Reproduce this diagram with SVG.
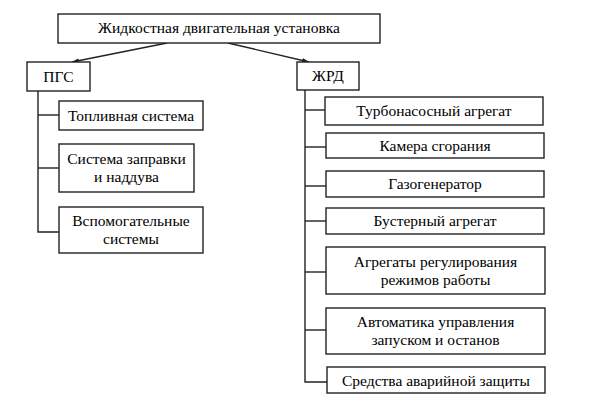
<svg xmlns="http://www.w3.org/2000/svg" width="597" height="403" viewBox="0 0 597 403">
<style>
rect{fill:#fff;stroke:#222;stroke-width:1.4}
text{font-family:'Liberation Serif','DejaVu Serif',serif;font-size:15.5px;fill:#000;text-anchor:middle}
.c line,.c polyline{stroke:#222;stroke-width:1.4;fill:none}
</style>
<defs>
<marker id="ah" markerWidth="8" markerHeight="6" refX="7" refY="3" orient="auto" markerUnits="userSpaceOnUse">
<path d="M0,0.5 L7,3 L0,5.5 Z" fill="#222"/>
</marker>
</defs>
<rect x="0" y="0" width="597" height="403" style="fill:#fff;stroke:none"/>
<g class="c" id="connectors">
<line x1="167" y1="43" x2="72" y2="62" marker-end="url(#ah)"/>
<line x1="228" y1="43" x2="309" y2="62" marker-end="url(#ah)"/>
<polyline points="38,91 38,232 59,232"/>
<line x1="38" y1="115" x2="59" y2="115"/>
<line x1="38" y1="168" x2="59" y2="168"/>
<polyline points="305,90 305,382 327,382"/>
<line x1="305" y1="110" x2="325" y2="110"/>
<line x1="305" y1="147" x2="326" y2="147"/>
<line x1="305" y1="186" x2="326" y2="186"/>
<line x1="305" y1="221" x2="326" y2="221"/>
<line x1="305" y1="272" x2="326" y2="272"/>
<line x1="305" y1="330" x2="326" y2="330"/>
</g>
<g id="root"><rect x="58" y="14" width="322" height="29"/><text x="219" y="33">Жидкостная двигательная установка</text></g>
<g id="pgs"><rect x="27" y="62" width="63" height="29"/><text x="58.5" y="81.5">ПГС</text></g>
<g id="zhrd"><rect x="297" y="62" width="62" height="28"/><text x="328" y="81">ЖРД</text></g>
<g id="fuel"><rect x="59" y="101" width="144" height="29"/><text x="131" y="120.5">Топливная система</text></g>
<g id="fill"><rect x="59" y="144" width="135" height="48"/><text x="126.5" y="164">Система заправки</text><text x="126.5" y="182">и наддува</text></g>
<g id="aux"><rect x="59" y="207" width="144" height="46"/><text x="131" y="226">Вспомогательные</text><text x="131" y="244">системы</text></g>
<g id="tna"><rect x="325" y="97" width="218" height="28"/><text x="434" y="116">Турбонасосный агрегат</text></g>
<g id="ks"><rect x="326" y="133" width="218" height="25"/><text x="435" y="151">Камера сгорания</text></g>
<g id="gg"><rect x="326" y="171" width="218" height="26"/><text x="435" y="189">Газогенератор</text></g>
<g id="ba"><rect x="326" y="208" width="218" height="26"/><text x="435" y="226">Бустерный агрегат</text></g>
<g id="reg"><rect x="326" y="247" width="219" height="47"/><text x="435.5" y="267">Агрегаты регулирования</text><text x="435.5" y="285">режимов работы</text></g>
<g id="auto"><rect x="326" y="308" width="219" height="46"/><text x="435.5" y="327">Автоматика управления</text><text x="435.5" y="345">запуском и останов</text></g>
<g id="saz"><rect x="327" y="367" width="218" height="26"/><text x="436" y="385.5">Средства аварийной защиты</text></g>
</svg>
